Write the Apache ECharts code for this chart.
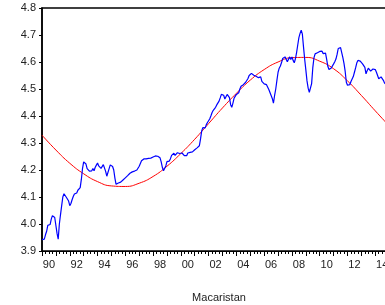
<!DOCTYPE html>
<html>
<head>
<meta charset="utf-8">
<script src="https://cdn.jsdelivr.net/npm/echarts@6/dist/echarts.min.js"></script>
<style>
  html, body { margin: 0; padding: 0; background: #fff; }
  #chart { width: 385px; height: 305px; }
</style>
</head>
<body>
<div id="chart"></div>
<script>
// monthly observations 1990M01 .. 2014M12
const startYear = 1990
const endYear = 2014
const months = []
for (let y = startYear; y <= endYear; y++) {
  for (let m = 1; m <= 12; m++) months.push(y + 'M' + (m < 10 ? '0' + m : m))
}

// Macaristan, log series (one row per year)
const values = [
  3.942, 3.943, 3.944, 3.960, 3.973, 3.995, 4.002, 3.998, 4.018, 4.031, 4.036, 4.024,
  4.020, 3.965, 3.944, 4.000, 4.035, 4.068, 4.100, 4.112, 4.108, 4.099, 4.094, 4.085,
  4.068, 4.076, 4.090, 4.102, 4.111, 4.115, 4.115, 4.125, 4.118, 4.135, 4.165, 4.205,
  4.230, 4.232, 4.222, 4.205, 4.198, 4.196, 4.195, 4.197, 4.205, 4.197, 4.210, 4.218,
  4.226, 4.215, 4.218, 4.206, 4.208, 4.220, 4.218, 4.195, 4.177, 4.182, 4.205, 4.219,
  4.214, 4.213, 4.200, 4.170, 4.147, 4.148, 4.152, 4.153, 4.155, 4.159, 4.163, 4.167,
  4.171, 4.175, 4.179, 4.183, 4.188, 4.191, 4.193, 4.195, 4.196, 4.198, 4.200, 4.207,
  4.214, 4.221, 4.234, 4.240, 4.241, 4.241, 4.241, 4.242, 4.243, 4.243, 4.244, 4.244,
  4.248, 4.251, 4.252, 4.253, 4.251, 4.248, 4.245, 4.230, 4.210, 4.197, 4.200, 4.215,
  4.231, 4.236, 4.233, 4.242, 4.254, 4.260, 4.262, 4.254, 4.258, 4.264, 4.269, 4.261,
  4.259, 4.263, 4.257, 4.253, 4.251, 4.253, 4.263, 4.268, 4.265, 4.264, 4.267, 4.270,
  4.275, 4.278, 4.282, 4.286, 4.290, 4.315, 4.345, 4.357, 4.360, 4.356, 4.368, 4.376,
  4.381, 4.390, 4.401, 4.413, 4.421, 4.427, 4.432, 4.441, 4.446, 4.455, 4.467, 4.480,
  4.483, 4.477, 4.463, 4.470, 4.480, 4.485, 4.468, 4.442, 4.432, 4.448, 4.466, 4.473,
  4.480, 4.483, 4.486, 4.500, 4.510, 4.516, 4.516, 4.519, 4.525, 4.531, 4.539, 4.550,
  4.556, 4.558, 4.554, 4.551, 4.548, 4.547, 4.546, 4.542, 4.549, 4.545, 4.528, 4.524,
  4.519, 4.514, 4.516, 4.513, 4.498, 4.487, 4.490, 4.465, 4.448, 4.476, 4.500, 4.532,
  4.562, 4.577, 4.585, 4.598, 4.613, 4.611, 4.619, 4.614, 4.601, 4.608, 4.619, 4.609,
  4.619, 4.606, 4.597, 4.612, 4.635, 4.663, 4.690, 4.706, 4.718, 4.703, 4.655, 4.610,
  4.571, 4.530, 4.503, 4.488, 4.484, 4.520, 4.578, 4.615, 4.630, 4.630, 4.634, 4.639,
  4.639, 4.644, 4.640, 4.631, 4.635, 4.633, 4.610, 4.584, 4.572, 4.573, 4.578, 4.584,
  4.593, 4.601, 4.611, 4.628, 4.650, 4.657, 4.653, 4.635, 4.616, 4.594, 4.565, 4.525,
  4.514, 4.512, 4.516, 4.528, 4.537, 4.546, 4.562, 4.578, 4.596, 4.606, 4.607, 4.603,
  4.598, 4.593, 4.589, 4.580, 4.556, 4.568, 4.577, 4.575, 4.566, 4.569, 4.574, 4.578,
  4.572, 4.562, 4.550, 4.538, 4.535, 4.545, 4.542, 4.532, 4.522, 4.518, 4.515, 4.512
]

// red fitted cycle, read at each January plus the last month
const fitMonths = [
  '1990M01', '1991M01', '1992M01', '1993M01', '1994M01', '1995M01', '1996M01',
  '1997M01', '1998M01', '1999M01', '2000M01', '2001M01', '2002M01', '2003M01',
  '2004M01', '2005M01', '2006M01', '2007M01', '2008M01', '2009M01', '2010M01',
  '2011M01', '2012M01', '2013M01', '2014M01', '2014M12'
]
const fitValues = [
  4.329, 4.274, 4.225, 4.186, 4.157, 4.141, 4.139,
  4.151, 4.176, 4.214, 4.261, 4.314, 4.372, 4.430,
  4.484, 4.533, 4.572, 4.600, 4.616, 4.617, 4.603,
  4.575, 4.530, 4.476, 4.419, 4.368
]

const labelMonths = ['1990M07', '1992M07', '1994M07', '1996M07', '1998M07', '2000M07', '2002M07',
  '2004M07', '2006M07', '2008M07', '2010M07', '2012M07', '2014M07']
const tickLabels = ['90', '92', '94', '96', '98', '00', '02', '04', '06', '08', '10', '12', '14']

const font = 'Liberation Sans, Arial, sans-serif'

const option = {
  animation: false,
  backgroundColor: '#fff',
  title: {
    text: 'Macaristan',
    left: 214,
    top: 287,
    textAlign: 'center',
    textStyle: { fontSize: 11, fontWeight: 'normal', color: '#222', fontFamily: font }
  },
  grid: {
    left: 42,
    top: 8,
    right: -3,
    bottom: 54,
    containLabel: false,
    outerBoundsMode: 'none',
    show: true,
    borderColor: '#000',
    borderWidth: 1.5,
    backgroundColor: '#fff'
  },
  xAxis: [
    {
      type: 'category',
      data: months,
      boundaryGap: false,
      position: 'bottom',
      axisLine: { lineStyle: { color: '#000', width: 1 } },
      axisTick: {
        length: 3,
        interval: (i) => i % 3 === 0,
        lineStyle: { color: '#000' }
      },
      axisLabel: {
        interval: (i, v) => labelMonths.includes(v),
        formatter: (v) => tickLabels[labelMonths.indexOf(v)],
        margin: 8,
        fontSize: 11,
        color: '#222',
        fontFamily: font
      },
      splitLine: { show: false }
    },
    {
      type: 'category',
      data: months,
      boundaryGap: false,
      position: 'bottom',
      axisLine: { show: false },
      axisTick: {
        length: 5,
        interval: (i) => i % 12 === 0,
        lineStyle: { color: '#000' }
      },
      axisLabel: { show: false },
      splitLine: { show: false }
    }
  ],
  yAxis: {
    type: 'value',
    min: 3.9,
    max: 4.8,
    interval: 0.1,
    axisLine: { show: true, lineStyle: { color: '#000', width: 1.5 } },
    axisTick: { show: true, length: 3, lineStyle: { color: '#000' } },
    axisLabel: {
      formatter: (v) => v.toFixed(1),
      margin: 6,
      fontSize: 11,
      color: '#222',
      fontFamily: font
    },
    splitLine: { show: false }
  },
  series: [
    {
      name: 'Macaristan',
      type: 'line',
      data: values,
      showSymbol: false,
      lineStyle: { color: '#0000ff', width: 1.2 },
      z: 3
    },
    {
      name: 'fit',
      type: 'line',
      data: fitMonths.map((m, i) => [m, fitValues[i]]),
      smooth: true,
      showSymbol: false,
      lineStyle: { color: '#ff0000', width: 1 },
      z: 2
    }
  ]
}

const myChart = echarts.init(document.getElementById('chart'), null, { renderer: 'canvas' })
myChart.setOption(option)
</script>
</body>
</html>
